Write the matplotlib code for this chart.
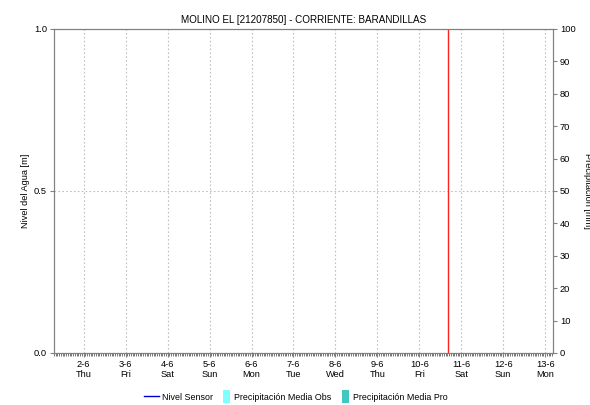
import numpy as np
import pandas as pd
import matplotlib.pyplot as plt
import matplotlib.dates as mdates
from matplotlib.lines import Line2D
from matplotlib.patches import Patch, Rectangle
from matplotlib.legend_handler import HandlerPatch

plt.rcParams['font.family'] = ['Liberation Sans', 'DejaVu Sans']

title = 'MOLINO EL [21207850] - CORRIENTE: BARANDILLAS'
x_start = pd.Timestamp('2022-06-01 07:00')
x_end = pd.Timestamp('2022-06-13 04:30')
now_time = pd.Timestamp('2022-06-10 16:30')
day_ticks = pd.date_range('2022-06-02', '2022-06-13')

# series are empty in the reference
nivel_time = pd.to_datetime([])
nivel_vals = []
precip_obs_time = pd.to_datetime([])
precip_obs_vals = []
precip_pro_time = pd.to_datetime([])
precip_pro_vals = []

fig = plt.figure(figsize=(5.9, 4.05), dpi=100)
ax = fig.add_axes([54/590, 1-353/405, 499/590, 324/405])
ax2 = ax.twinx()

ax2.bar(precip_obs_time, precip_obs_vals, color='#80ffff', width=1/24)
ax2.bar(precip_pro_time, precip_pro_vals, color='#40c8c0', width=1/24)
ax.plot(nivel_time, nivel_vals, color='#0000cc', lw=1)
ax.axvline(now_time, color='#ff2020', lw=1)

ax.set_yticks([0, 0.5, 1.0])
ax.set_yticklabels(['0.0', '0.5', '1.0'])
ax2.set_yticks(np.arange(0, 101, 10))

ax.set_xticks(day_ticks)
ax.set_xticklabels([f'{d.day}-{d.month}\n{d.strftime("%a")}' for d in day_ticks])
ax.xaxis.set_minor_locator(mdates.HourLocator())
ax.set_xlim(x_start, x_end)
ax.set_ylim(0, 1)
ax2.set_ylim(0, 100)

for a in (ax, ax2):
    for s in a.spines.values():
        s.set_color('#808080')
    a.tick_params(labelsize=6.7, length=3, color='#808080', pad=2)
ax.tick_params(axis='x', which='minor', length=2, color='#606060')

ax.grid(True, color='#c0c0c0', ls=(0, (1.5, 2)), lw=0.8)
ax.set_axisbelow(True)

ax.set_title(title, fontsize=7.1, pad=4)
ax.set_ylabel('Nivel del Agua [m]', fontsize=6.6, labelpad=3)
ax2.set_ylabel('Precipitación [mm]', fontsize=6.6, rotation=270, labelpad=12)


def narrow_patch(legend, orig_handle, xdescent, ydescent, width, height, fontsize):
    return Rectangle((-xdescent + width - 6, -ydescent - 1.5), 5, height + 3)


handles = [Line2D([0], [0], color='#0000cc', lw=1),
           Patch(facecolor='#80ffff'),
           Patch(facecolor='#40c8c0')]
labels = ['Nivel Sensor', 'Precipitación Media Obs', 'Precipitación Media Pro']
fig.legend(handles, labels, loc='center', bbox_to_anchor=(296/590, 1-397/405), ncol=3,
           frameon=False, fontsize=6.4, handlelength=1.7, handleheight=1.0,
           handletextpad=0.3, columnspacing=0.4,
           handler_map={Patch: HandlerPatch(patch_func=narrow_patch)})

fig.savefig('out.png', dpi=100)
